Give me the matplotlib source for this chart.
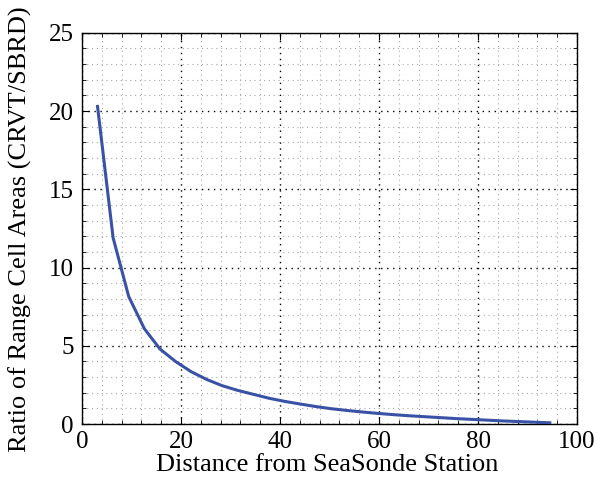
import matplotlib
matplotlib.use("Agg")
import matplotlib.pyplot as plt
from matplotlib.ticker import MultipleLocator

distance = [3.15, 6.3, 9.45, 12.6, 15.75, 18.9, 22.05, 25.2, 28.35, 31.5,
            34.65, 37.8, 40.95, 44.1, 47.25, 50.4, 53.55, 56.7, 59.85, 63.0,
            66.15, 69.3, 72.45, 75.6, 78.75, 81.9, 85.05, 88.2, 91.35, 94.5]
ratio = [20.3, 11.9, 8.15, 6.1, 4.8, 4.0, 3.35, 2.85, 2.45, 2.15,
         1.9, 1.65, 1.45, 1.28, 1.12, 0.98, 0.87, 0.77, 0.68, 0.6,
         0.53, 0.47, 0.41, 0.35, 0.3, 0.25, 0.2, 0.16, 0.12, 0.08]

x_ticks = [0, 20, 40, 60, 80, 100]
y_ticks = [0, 5, 10, 15, 20, 25]

plt.rcParams['font.family'] = ['Liberation Serif', 'DejaVu Serif']

fig = plt.figure(figsize=(5.98, 4.83), dpi=100)
ax = fig.add_axes([0.137, 0.122, 0.828, 0.810])

ax.plot(distance, ratio, color='#3a52a6', lw=2.2, zorder=3)

ax.set_xlim(0, 100)
ax.set_ylim(0, 25)
ax.set_xticks(x_ticks)
ax.set_yticks(y_ticks)
ax.xaxis.set_minor_locator(MultipleLocator(4))
ax.yaxis.set_minor_locator(MultipleLocator(1))

ax.grid(which='major', linestyle=(0, (1, 3.3)), color='black', lw=1.0)
ax.grid(which='minor', linestyle=(0, (1, 3.3)), color='#a8a8a8', lw=0.8)
ax.set_axisbelow(True)

ax.tick_params(which='both', direction='in', top=True, right=True, labelsize=18)
ax.tick_params(which='major', length=5, width=0.8)
ax.tick_params(which='minor', length=3, width=0.6)
ax.tick_params(axis='x', pad=5)
ax.tick_params(axis='y', pad=6)
for s in ax.spines.values():
    s.set_linewidth(1.0)

ax.set_xlabel('Distance from SeaSonde Station', fontsize=19)
ax.set_ylabel('Ratio of Range Cell Areas (CRVT/SBRD)', fontsize=19)
ax.xaxis.set_label_coords(0.495, -0.076)
ax.yaxis.set_label_coords(-0.101, 0.497)

fig.savefig('out.png', dpi=100)
